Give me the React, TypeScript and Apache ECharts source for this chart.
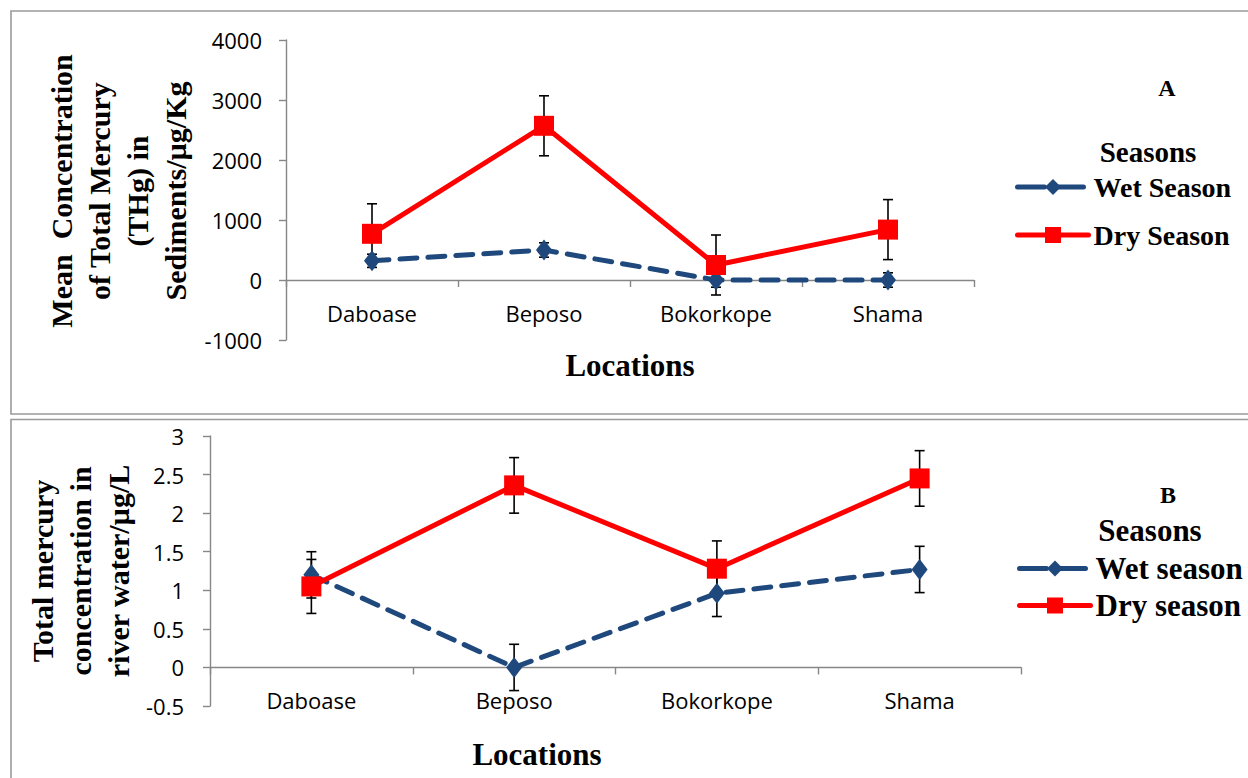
import React, { useEffect, useRef } from "react";
import * as echarts from "echarts";

const categories = ["Daboase", "Beposo", "Bokorkope", "Shama"];

// Panel A: sediments (µg/Kg)
const sedWet = [320, 500, 0, 0];
const sedWetErr = [110, 120, 120, 120];
const sedDry = [770, 2570, 250, 840];
const sedDryErr = [500, 500, 500, 500];
const sedTicks = { min: -1000, max: 4000, interval: 1000 };

// Panel B: river water (µg/L)
const watWet = [1.2, 0, 0.96, 1.27];
const watWetErr = [0.3, 0.3, 0.3, 0.3];
const watDry = [1.05, 2.36, 1.28, 2.45];
const watDryErr = [0.35, 0.36, 0.36, 0.36];
const watTicks = { min: -0.5, max: 3, interval: 0.5 };

const SERIF = "'Liberation Serif', 'Times New Roman', serif";
const SANS = "'Open Sans', 'Noto Sans', sans-serif";
const BLUE = "#1F497D";
const RED = "#FF0000";
const AXIS = "#878787";

function errData(vals: number[], errs: number[]) {
  return vals.map((v, i) => [i, v, errs[i]]);
}

function errorRender(params: any, api: any) {
  const x = api.value(0);
  const v = api.value(1);
  const e = api.value(2);
  const hi = api.coord([x, v + e]);
  const lo = api.coord([x, v - e]);
  const w = 5;
  const st = { stroke: "#000", lineWidth: 1.6 };
  return {
    type: "group",
    children: [
      { type: "line", shape: { x1: hi[0], y1: hi[1], x2: lo[0], y2: lo[1] }, style: st },
      { type: "line", shape: { x1: hi[0] - w, y1: hi[1], x2: hi[0] + w, y2: hi[1] }, style: st },
      { type: "line", shape: { x1: lo[0] - w, y1: lo[1], x2: lo[0] + w, y2: lo[1] }, style: st },
    ],
  };
}

function xAxisCfg(gridIndex: number, labelMargin: number) {
  return {
    type: "category",
    gridIndex,
    data: categories,
    boundaryGap: true,
    axisLine: { onZero: true, lineStyle: { color: AXIS, width: 1.4 } },
    axisTick: { show: true, length: 7, lineStyle: { color: AXIS, width: 1.4 } },
    axisLabel: { color: "#000", fontFamily: SANS, fontSize: 22, margin: labelMargin },
    splitLine: { show: false },
  };
}

function yAxisCfg(gridIndex: number, t: { min: number; max: number; interval: number }, labelMargin: number) {
  return {
    type: "value",
    gridIndex,
    min: t.min,
    max: t.max,
    interval: t.interval,
    axisLine: { show: true, lineStyle: { color: AXIS, width: 1.4 } },
    axisTick: { show: true, length: 7, lineStyle: { color: AXIS, width: 1.4 } },
    axisLabel: {
      color: "#000",
      fontFamily: SANS,
      fontSize: 22,
      margin: labelMargin,
      formatter: (v: number) => String(v),
    },
    splitLine: { show: false },
  };
}

function seriesFor(idx: number, wetName: string, dryName: string, wet: number[], wetErr: number[], dry: number[], dryErr: number[]) {
  return [
    {
      type: "custom",
      name: "errWet" + idx,
      xAxisIndex: idx,
      yAxisIndex: idx,
      data: errData(wet, wetErr),
      renderItem: errorRender,
      encode: { x: 0, y: 1 },
      silent: true,
    },
    {
      type: "custom",
      name: "errDry" + idx,
      xAxisIndex: idx,
      yAxisIndex: idx,
      data: errData(dry, dryErr),
      renderItem: errorRender,
      encode: { x: 0, y: 1 },
      silent: true,
    },
    {
      type: "line",
      name: wetName,
      xAxisIndex: idx,
      yAxisIndex: idx,
      data: wet,
      symbol: "diamond",
      symbolSize: [16, 21],
      lineStyle: { color: BLUE, width: 5, type: [17, 11], cap: "round" },
      itemStyle: { color: BLUE },
    },
    {
      type: "line",
      name: dryName,
      xAxisIndex: idx,
      yAxisIndex: idx,
      data: dry,
      symbol: "rect",
      symbolSize: 20,
      lineStyle: { color: RED, width: 5 },
      itemStyle: { color: RED },
    },
  ];
}

export default function App() {
  const ref = useRef<HTMLDivElement>(null);

  useEffect(() => {
    if (!ref.current) return;
    const chart = echarts.init(ref.current, undefined, { renderer: "svg" });
    const titleStyle = (size: number) => ({
      fill: "#000",
      font: `bold ${size}px ${SERIF}`,
      textAlign: "center",
      textVerticalAlign: "middle",
    });
    const wetLegendLine = { width: 5, type: [27, 12], cap: "round" };
    const dryLegendLine = { width: 5, type: "solid", cap: "round" };
    const option: any = {
      animation: false,
      backgroundColor: "#fff",
      grid: [
        { left: 286, top: 40, width: 688, height: 300, containLabel: false },
        { left: 210, top: 436, width: 811, height: 270, containLabel: false },
      ],
      xAxis: [xAxisCfg(0, -38), xAxisCfg(1, -17)],
      yAxis: [yAxisCfg(0, sedTicks, 24), yAxisCfg(1, watTicks, 26)],
      legend: [
        {
          data: [
            { name: "Wet Season", lineStyle: wetLegendLine },
            { name: "Dry Season", lineStyle: dryLegendLine },
          ],
          orient: "vertical",
          left: 1015,
          top: 173,
          itemWidth: 71,
          itemHeight: 20,
          itemGap: 20,
          padding: 0,
          lineStyle: { width: 5 },
          textStyle: { color: "#000", fontFamily: SERIF, fontWeight: "bold", fontSize: 28, lineHeight: 20 },
        },
        {
          data: [
            { name: "Wet season", lineStyle: wetLegendLine },
            { name: "Dry season", lineStyle: dryLegendLine },
          ],
          orient: "vertical",
          left: 1017,
          top: 553,
          itemWidth: 71,
          itemHeight: 20,
          itemGap: 6,
          padding: 0,
          lineStyle: { width: 5 },
          textStyle: { color: "#000", fontFamily: SERIF, fontWeight: "bold", fontSize: 31, lineHeight: 20 },
        },
      ],
      series: [
        ...seriesFor(0, "Wet Season", "Dry Season", sedWet, sedWetErr, sedDry, sedDryErr),
        ...seriesFor(1, "Wet season", "Dry season", watWet, watWetErr, watDry, watDryErr),
      ],
      graphic: [
        {
          type: "rect",
          shape: { x: 11, y: 11, width: 1260, height: 403 },
          style: { fill: "none", stroke: "#9a9a9a", lineWidth: 1.6 },
          silent: true,
        },
        {
          type: "rect",
          shape: { x: 11, y: 419.5, width: 1260, height: 400 },
          style: { fill: "none", stroke: "#9a9a9a", lineWidth: 1.6 },
          silent: true,
        },
        {
          type: "text",
          x: 118,
          y: 191,
          rotation: Math.PI / 2,
          style: {
            ...titleStyle(30),
            text: "Mean  Concentration\nof Total Mercury\n(THg) in\nSediments/µg/Kg",
            lineHeight: 38,
          },
        },
        { type: "text", x: 630, y: 365, style: { ...titleStyle(31), text: "Locations" } },
        { type: "text", x: 1167, y: 88, style: { ...titleStyle(24), text: "A" } },
        { type: "text", x: 1148, y: 152, style: { ...titleStyle(29), text: "Seasons" } },
        {
          type: "text",
          x: 80,
          y: 571,
          rotation: Math.PI / 2,
          style: {
            ...titleStyle(30),
            text: "Total mercury\nconcentration in\nriver water/µg/L",
            lineHeight: 38,
          },
        },
        { type: "text", x: 537, y: 754, style: { ...titleStyle(31), text: "Locations" } },
        { type: "text", x: 1168, y: 495, style: { ...titleStyle(24), text: "B" } },
        { type: "text", x: 1150, y: 530, style: { ...titleStyle(31), text: "Seasons" } },
      ],
    };
    chart.setOption(option);
    return () => chart.dispose();
  }, []);

  return (
    <div
      ref={ref}
      style={{ position: "fixed", left: 0, top: 0, width: 1248, height: 778, background: "#fff" }}
    />
  );
}
